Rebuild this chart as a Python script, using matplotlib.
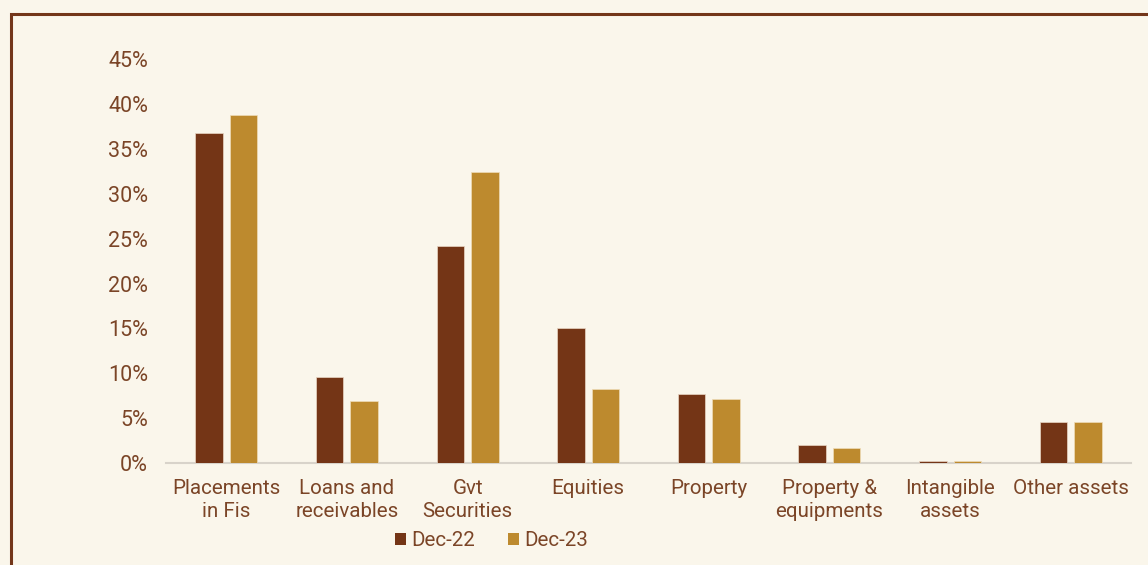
import matplotlib
matplotlib.use("Agg")
import matplotlib.pyplot as plt
import numpy as np
from matplotlib.patches import Patch, Rectangle

categories = ["Placements\nin Fis", "Loans and\nreceivables", "Gvt\nSecurities", "Equities",
              "Property", "Property &\nequipments", "Intangible\nassets", "Other assets"]
dec22 = [36.7, 9.6, 24.2, 15.0, 7.7, 2.05, 0.3, 4.65]
dec23 = [38.8, 6.9, 32.4, 8.25, 7.15, 1.7, 0.25, 4.65]
series_names = ["Dec-22", "Dec-23"]
yticks = [0, 5, 10, 15, 20, 25, 30, 35, 40, 45]

BG = "#FAF6EB"
C22 = "#743516"
C23 = "#BD8A2E"
TXT = "#7B4527"
BORDER = "#73361A"

plt.rcParams['font.family'] = ['Roboto', 'DejaVu Sans']

fig = plt.figure(figsize=(11.48, 5.65), dpi=100, facecolor=BG)
ax = fig.add_axes([166/1148, 1-463.3/565, (1131-166)/1148, (463.3-58.8)/565])
ax.set_facecolor(BG)

x = np.arange(len(categories))
w = 0.228
off = 0.143
ax.bar(x - off, dec22, w, color=C22, edgecolor="#E9D6C4", linewidth=0.5, label=series_names[0], zorder=3)
ax.bar(x + off, dec23, w, color=C23, edgecolor="#EEDCB8", linewidth=0.5, label=series_names[1], zorder=3)

ax.set_xlim(-0.5, 7.5)
ax.set_ylim(0, 45)
ax.set_yticks(yticks)
ax.set_yticklabels([f"{v}%" for v in yticks])
ax.set_xticks(x)
ax.set_xticklabels(categories, linespacing=1.3)
for s in ["top", "right", "left"]:
    ax.spines[s].set_visible(False)
ax.spines["bottom"].set_color("#D8D3CA")
ax.spines["bottom"].set_linewidth(1.5)
ax.spines["bottom"].set_zorder(1)
ax.tick_params(axis="both", length=0, labelcolor=TXT)
ax.tick_params(axis="y", pad=13, labelsize=15.5)
ax.tick_params(axis="x", pad=11, labelsize=14.8)

handles = [Patch(facecolor=C22, edgecolor="none"), Patch(facecolor=C23, edgecolor="none")]
leg = fig.legend(handles, series_names, loc="center", bbox_to_anchor=(491.5/1148, 1-541/565),
                 ncol=2, frameon=False, fontsize=14.8, labelcolor=TXT,
                 handlelength=0.55, handleheight=0.55, handletextpad=0.25, columnspacing=1.6,
                 borderaxespad=0)

# outer border (top and left)
fig.add_artist(Rectangle((10.5/1148, -0.1), 1.2, 1.1 - 13.5/565, transform=fig.transFigure,
                         fill=False, edgecolor=BORDER, linewidth=2.2))

fig.savefig("out.png", dpi=100, facecolor=BG)
